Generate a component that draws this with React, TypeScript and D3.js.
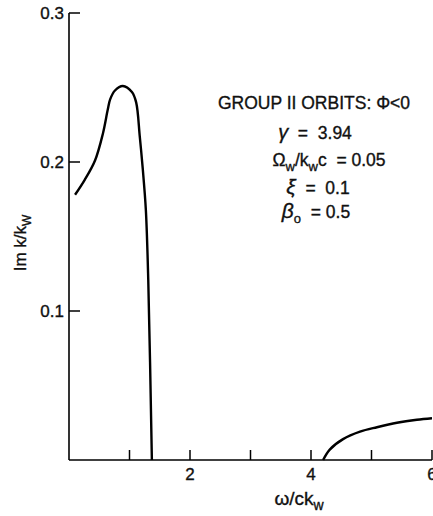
import * as React from 'react';
import * as d3 from 'd3';

// group II branch near origin
const lowX = [0.1, 0.26, 0.43, 0.56, 0.64, 0.68, 0.76, 0.89, 1.04, 1.11, 1.17, 1.22, 1.27, 1.31, 1.37];
const lowY = [0.178, 0.188, 0.201, 0.219, 0.235, 0.242, 0.248, 0.251, 0.247, 0.24, 0.217, 0.195, 0.168, 0.121, 0];
// upper branch
const highX = [4.2, 4.31, 4.53, 4.81, 5.09, 5.42, 5.75, 6.0];
const highY = [0, 0.007, 0.014, 0.019, 0.022, 0.025, 0.027, 0.028];

const xTicks = [1, 2, 3, 4, 5, 6];
const xTickLabels = ['', '2', '', '4', '', '6'];
const yTicks = [0.1, 0.2, 0.3];

const W = 433;
const H = 516;
const FONT = '"Liberation Sans", Arial, sans-serif';
const SP = '\u00A0';

export default function App() {
  const x = d3.scaleLinear().domain([0, 6]).range([69, 432]);
  const y = d3.scaleLinear().domain([0, 0.3]).range([460, 13]);

  const line = d3
    .line<[number, number]>()
    .x((d) => x(d[0]))
    .y((d) => y(d[1]))
    .curve(d3.curveCatmullRom.alpha(0.5));

  const low = lowX.map((v, i) => [v, lowY[i]] as [number, number]);
  const high = highX.map((v, i) => [v, highY[i]] as [number, number]);

  const y0 = y(0);
  const x0 = x(0);

  return (
    <div style={{ position: 'absolute', left: 0, top: 0 }}>
      <svg
        width={W}
        height={H}
        style={{ display: 'block', background: '#fff' }}
        fontFamily={FONT}
        stroke="none"
      >
        {/* axes */}
        <line x1={x0} x2={x0} y1={y(0.3)} y2={y0} stroke="#000" strokeWidth={1.6} />
        <line x1={x0} x2={x(6)} y1={y0} y2={y0} stroke="#000" strokeWidth={1.6} />
        <g fill="#111" stroke="#111" strokeWidth={0.35}>
          {yTicks.map((t) => (
            <g key={t}>
              <line x1={x0} x2={x0 + 11} y1={y(t)} y2={y(t)} stroke="#000" strokeWidth={1.5} />
              <text x={x0 - 5} y={y(t) + 6} textAnchor="end" fontSize={17}>
                {t.toFixed(1)}
              </text>
            </g>
          ))}
          {xTicks.map((t, i) => (
            <g key={t}>
              <line x1={x(t)} x2={x(t)} y1={y0} y2={y0 - 10} stroke="#000" strokeWidth={1.5} />
              <text x={x(t)} y={y0 + 20} textAnchor="middle" fontSize={17}>
                {xTickLabels[i]}
              </text>
            </g>
          ))}

          {/* axis labels */}
          <text transform="translate(26,243) rotate(-90)" textAnchor="middle" fontSize={17}>
            Im k/k<tspan dy={5} fontSize={12}>W</tspan>
          </text>
          <text x={299} y={505} textAnchor="middle" fontSize={19}>
            ω/ck<tspan dy={5} fontSize={14}>w</tspan>
          </text>

          {/* annotation */}
          <g fontSize={17.5} textAnchor="middle">
            <text x={314} y={109}>GROUP II ORBITS: Φ&lt;0</text>
            <text x={315} y={139}>
              <tspan fontStyle="italic" fontSize={20}>γ</tspan>
              {`${SP}${SP}=${SP}${SP}3.94`}
            </text>
            <text x={329} y={166}>
              Ω<tspan dy={5} fontSize={13}>w</tspan>
              <tspan dy={-5}>/k</tspan>
              <tspan dy={5} fontSize={13}>w</tspan>
              <tspan dy={-5}>{`c${SP}${SP}=${SP}0.05`}</tspan>
            </text>
            <text x={318} y={194}>
              <tspan fontStyle="italic" fontSize={21}>ξ</tspan>
              {`${SP}${SP}=${SP}${SP}0.1`}
            </text>
            <text x={316} y={218}>
              <tspan fontStyle="italic" fontSize={21}>β</tspan>
              <tspan dy={5} fontSize={13}>o</tspan>
              <tspan dy={-5}>{`${SP}${SP}=${SP}0.5`}</tspan>
            </text>
          </g>
        </g>

        {/* curves */}
        <path d={line(low) || ''} fill="none" stroke="#000" strokeWidth={2.4} />
        <path d={line(high) || ''} fill="none" stroke="#000" strokeWidth={2.4} />
      </svg>
    </div>
  );
}
